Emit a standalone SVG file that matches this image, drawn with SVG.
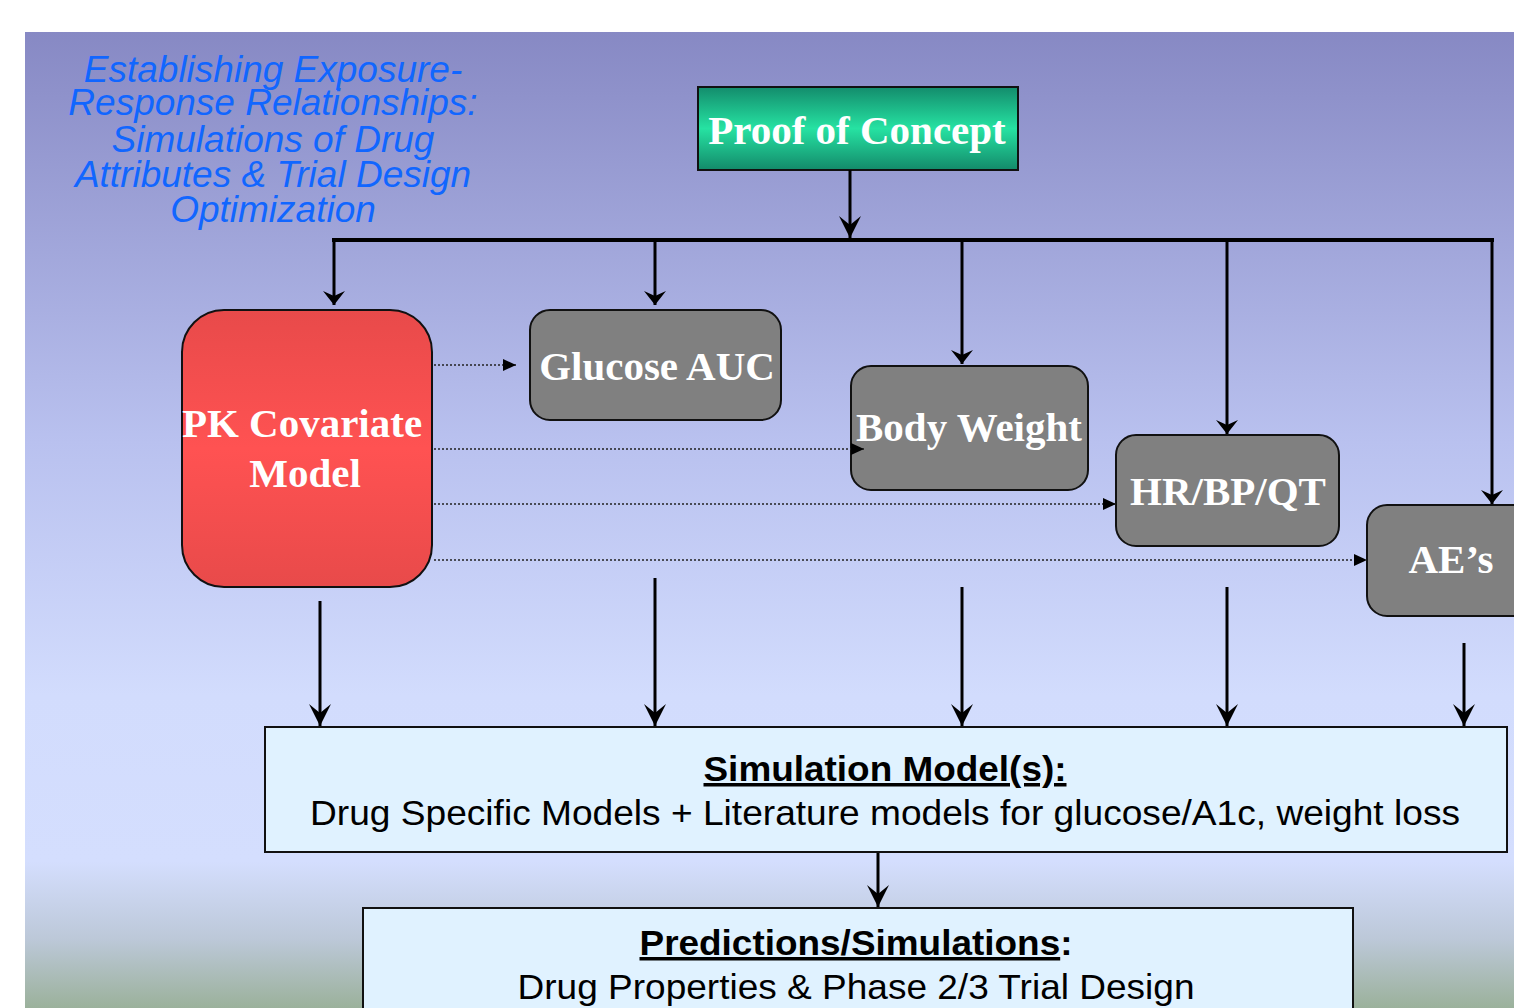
<svg xmlns="http://www.w3.org/2000/svg" width="1514" height="1008" viewBox="0 0 1514 1008">
<defs>
<linearGradient id="bg" x1="0" y1="32" x2="0" y2="1008" gradientUnits="userSpaceOnUse">
<stop offset="0" stop-color="#8789c4"/>
<stop offset="0.42" stop-color="#b9c1ef"/>
<stop offset="0.68" stop-color="#d2dcfd"/>
<stop offset="0.85" stop-color="#d4defe"/>
<stop offset="0.93" stop-color="#bcc8d8"/>
<stop offset="1" stop-color="#9bb19b"/>
</linearGradient>
<linearGradient id="green" x1="0" y1="0" x2="0" y2="1">
<stop offset="0" stop-color="#138c6c"/>
<stop offset="0.5" stop-color="#26e2a2"/>
<stop offset="1" stop-color="#138a6a"/>
</linearGradient>
<linearGradient id="red" x1="0" y1="0" x2="0" y2="1">
<stop offset="0" stop-color="#e84a4a"/>
<stop offset="0.5" stop-color="#ff5252"/>
<stop offset="1" stop-color="#e84a4a"/>
</linearGradient>
<marker id="ah" markerUnits="userSpaceOnUse" markerWidth="22" markerHeight="22" viewBox="0 0 22 22" refX="22" refY="11" orient="auto">
<path d="M22,11 L0,0 L9,11 L0,22 Z" fill="#000"/>
</marker>
<marker id="ahs" markerUnits="userSpaceOnUse" markerWidth="14" markerHeight="22" viewBox="0 0 14 22" refX="14" refY="11" orient="auto">
<path d="M14,11 L0,0 L5,11 L0,22 Z" fill="#000"/>
</marker>
<marker id="tri" markerUnits="userSpaceOnUse" markerWidth="13" markerHeight="12" viewBox="0 0 13 12" refX="13" refY="6" orient="auto">
<path d="M13,6 L0,0 L0,12 Z" fill="#000"/>
</marker>
<style>
.title{font-family:"Liberation Sans",Arial,sans-serif;font-style:italic;font-size:37px;fill:#1166ff;text-anchor:middle}
.lbl{font-family:"Liberation Serif","Times New Roman",serif;font-weight:bold;font-size:41px;fill:#fff;text-anchor:middle}
.grey{fill:#808080;stroke:#111;stroke-width:2}
.box{fill:#e0f2ff;stroke:#111;stroke-width:2}
.head{font-family:"Liberation Sans",Arial,sans-serif;font-weight:bold;font-size:35px;fill:#000;text-anchor:middle}
.body{font-family:"Liberation Sans",Arial,sans-serif;font-size:35px;fill:#000;text-anchor:middle}
.solid{stroke:#000;stroke-width:3;fill:none}
.dot{stroke:#222;stroke-width:1.5;stroke-dasharray:2 2;fill:none}
</style>
</defs>
<rect x="0" y="0" width="1514" height="1008" fill="#fff"/>
<rect x="25" y="32" width="1489" height="976" fill="url(#bg)"/>
<g id="title">
<text class="title" x="273" y="82">Establishing Exposure-</text>
<text class="title" x="273" y="115">Response Relationships:</text>
<text class="title" x="273" y="152">Simulations of Drug</text>
<text class="title" x="273" y="187">Attributes &amp; Trial Design</text>
<text class="title" x="273" y="222">Optimization</text>
</g>
<g id="proof">
<rect x="698" y="87" width="320" height="83" fill="url(#green)" stroke="#111" stroke-width="2"/>
<text class="lbl" x="857" y="144">Proof of Concept</text>
</g>
<g id="pk">
<rect x="182" y="310" width="250" height="277" rx="42" ry="42" fill="url(#red)" stroke="#111" stroke-width="2"/>
<text class="lbl" x="302" y="437">PK Covariate</text>
<text class="lbl" x="305" y="487">Model</text>
</g>
<g id="glucose">
<rect class="grey" x="530" y="310" width="251" height="110" rx="20" ry="20"/>
<text class="lbl" x="657" y="380">Glucose AUC</text>
</g>
<g id="weight">
<rect class="grey" x="851" y="366" width="237" height="124" rx="20" ry="20"/>
<text class="lbl" x="969" y="441">Body Weight</text>
</g>
<g id="hr">
<rect class="grey" x="1116" y="435" width="223" height="111" rx="20" ry="20"/>
<text class="lbl" x="1228" y="505">HR/BP/QT</text>
</g>
<g id="ae">
<rect class="grey" x="1367" y="505" width="170" height="111" rx="20" ry="20"/>
<text class="lbl" x="1451" y="573">AE’s</text>
</g>
<g id="simulation">
<rect class="box" x="265" y="727" width="1242" height="125"/>
<text class="head" x="885" y="781" text-decoration="underline" textLength="363" lengthAdjust="spacingAndGlyphs">Simulation Model(s):</text>
<text class="body" x="885" y="825" textLength="1150" lengthAdjust="spacingAndGlyphs">Drug Specific Models + Literature models for glucose/A1c, weight loss</text>
</g>
<g id="predictions">
<rect class="box" x="363" y="908" width="990" height="110"/>
<text class="head" x="856" y="955" textLength="433" lengthAdjust="spacingAndGlyphs"><tspan text-decoration="underline">Predictions/Simulations</tspan>:</text>
<text class="body" x="856" y="999" textLength="677" lengthAdjust="spacingAndGlyphs">Drug Properties &amp; Phase 2/3 Trial Design</text>
</g>
<g id="connectors">
<line class="solid" x1="850" y1="170" x2="850" y2="238" marker-end="url(#ah)"/>
<line x1="332" y1="240" x2="1494" y2="240" stroke="#000" stroke-width="4"/>
<line class="solid" x1="334" y1="240" x2="334" y2="305" marker-end="url(#ahs)"/>
<line class="solid" x1="655" y1="240" x2="655" y2="305" marker-end="url(#ahs)"/>
<line class="solid" x1="962" y1="240" x2="962" y2="364" marker-end="url(#ahs)"/>
<line class="solid" x1="1227" y1="240" x2="1227" y2="434" marker-end="url(#ahs)"/>
<line class="solid" x1="1492" y1="240" x2="1492" y2="504" marker-end="url(#ahs)"/>
<line class="dot" x1="434" y1="365" x2="516" y2="365" marker-end="url(#tri)"/>
<line class="dot" x1="434" y1="449" x2="864" y2="449" marker-end="url(#tri)"/>
<line class="dot" x1="434" y1="504" x2="1116" y2="504" marker-end="url(#tri)"/>
<line class="dot" x1="434" y1="560" x2="1367" y2="560" marker-end="url(#tri)"/>
<line class="solid" x1="320" y1="601" x2="320" y2="726" marker-end="url(#ah)"/>
<line class="solid" x1="655" y1="578" x2="655" y2="726" marker-end="url(#ah)"/>
<line class="solid" x1="962" y1="587" x2="962" y2="726" marker-end="url(#ah)"/>
<line class="solid" x1="1227" y1="587" x2="1227" y2="726" marker-end="url(#ah)"/>
<line class="solid" x1="1464" y1="643" x2="1464" y2="726" marker-end="url(#ah)"/>
<line class="solid" x1="878" y1="853" x2="878" y2="907" marker-end="url(#ah)"/>
</g>
</svg>
